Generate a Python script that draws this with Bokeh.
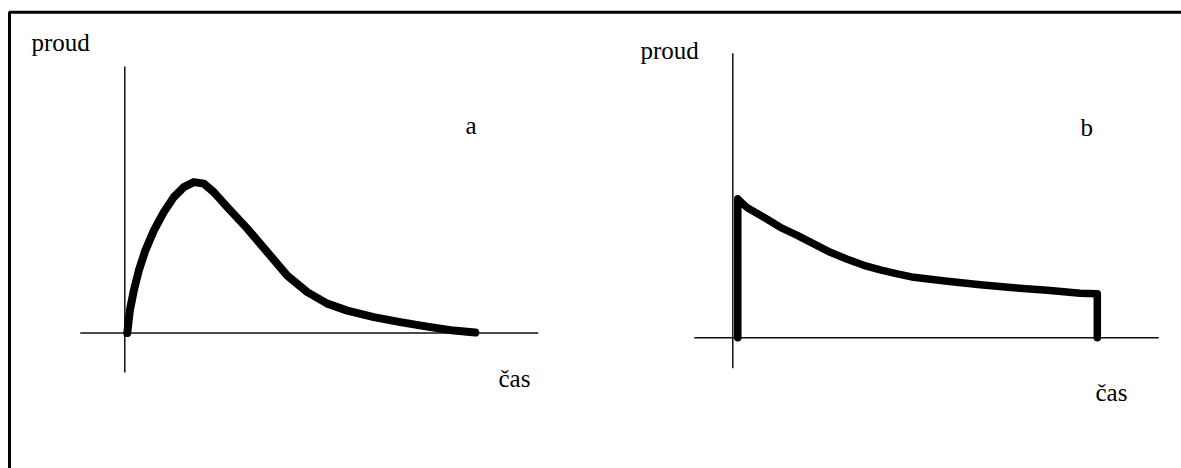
from bokeh.plotting import figure
from bokeh.models import Range1d
from bokeh.core.properties import value
from bokeh.embed import file_html
from bokeh.resources import INLINE

# Case a: current rises to a peak and then decays back towards zero
time_a = [0.05, 0.10, 0.18, 0.28, 0.41, 0.58, 0.78, 0.98, 1.18, 1.38, 1.58, 1.78,
          2.05, 2.45, 2.85, 3.25, 3.65, 4.05, 4.45, 4.98, 5.51, 6.05, 6.58, 7.01]
current_a = [0.00, 0.45, 0.85, 1.25, 1.65, 2.05, 2.42, 2.72, 2.92, 3.02, 2.99, 2.82,
             2.52, 2.09, 1.62, 1.15, 0.82, 0.59, 0.45, 0.32, 0.22, 0.13, 0.05, 0.01]

# Case b: current jumps up at switch-on, decays, then is cut off
time_b = [0.10, 0.10, 0.20, 0.29, 0.62, 0.95, 1.29, 1.62, 1.95, 2.29, 2.62, 2.95,
          3.29, 3.62, 3.95, 4.29, 4.95, 5.62, 6.29, 6.95, 7.29, 7.29]
current_b = [0.00, 2.78, 2.68, 2.60, 2.41, 2.21, 2.05, 1.88, 1.71, 1.57, 1.45, 1.36,
             1.28, 1.21, 1.17, 1.13, 1.06, 1.00, 0.95, 0.89, 0.88, 0.00]

# axis extents (time, current) for each sketch
axis_t_a = [-0.89, 8.27]
axis_i_a = [-0.79, 5.33]
axis_t_b = [-0.77, 8.52]
axis_i_b = [-0.61, 5.69]

panel_names = ["a", "b"]
y_label = "proud"
x_label = "čas"

# page layout (pixels)
W, H = 1181, 468
SCALE = 50.0                      # pixels per unit
origin_a = (124.3, 332.6)
origin_b = (732.3, 337.3)

p = figure(width=W, height=H, output_backend="svg", toolbar_location=None,
           x_axis_location=None, y_axis_location=None, min_border=0,
           x_range=Range1d(0, W), y_range=Range1d(H, 0),
           outline_line_color=None, background_fill_color="white",
           border_fill_color="white")
p.xgrid.visible = False
p.ygrid.visible = False


def add_panel_ranges(name, origin):
    ox, oy = origin
    p.extra_x_ranges[f"t_{name}"] = Range1d((0 - ox) / SCALE, (W - ox) / SCALE)
    p.extra_y_ranges[f"i_{name}"] = Range1d((oy - H) / SCALE, oy / SCALE)


add_panel_ranges("a", origin_a)
add_panel_ranges("b", origin_b)

FONT = value("Liberation Serif")
FSIZE = "25px"


def draw_panel(name, t, i, axis_t, axis_i, lw):
    xr, yr = f"t_{name}", f"i_{name}"
    # thin axes crossing at the origin
    p.segment(x0=[axis_t[0], 0], y0=[0, axis_i[0]], x1=[axis_t[1], 0], y1=[0, axis_i[1]],
              line_color="#111111", line_width=1.5, x_range_name=xr, y_range_name=yr)
    # thick hand-drawn current curve
    p.line(t, i, line_color="black", line_width=lw, line_cap="round", line_join="round",
           x_range_name=xr, y_range_name=yr)


draw_panel("a", time_a, current_a, axis_t_a, axis_i_a, 8)
draw_panel("b", time_b, current_b, axis_t_b, axis_i_b, 7.5)

# frame around the drawing
p.line([9, 9, W + 5], [H + 5, 11.8, 11.8], line_color="black", line_width=3)

# labels
p.text(x=[31, 640], y=[42, 50], text=[y_label, y_label], text_font=FONT,
       text_font_size=FSIZE, text_baseline="alphabetic", text_align="left", text_color="black")
p.text(x=[498, 1095], y=[378, 392], text=[x_label, x_label], text_font=FONT,
       text_font_size=FSIZE, text_baseline="alphabetic", text_align="left", text_color="black")
p.text(x=[465, 1080], y=[125, 127], text=panel_names, text_font=FONT,
       text_font_size=FSIZE, text_baseline="alphabetic", text_align="left", text_color="black")

open("out.html", "w").write(file_html(p, INLINE))
